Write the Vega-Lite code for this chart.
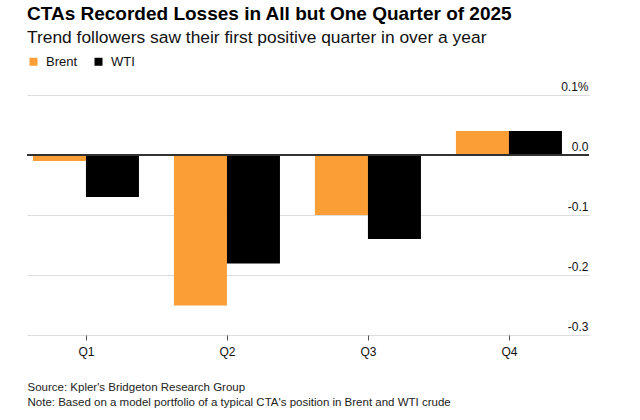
{
  "$schema": "https://vega.github.io/schema/vega-lite/v6.json",
  "width": 562,
  "height": 240,
  "padding": {"left": 26, "right": 52, "top": 4, "bottom": 3},
  "background": "white",
  "title": {
    "text": "CTAs Recorded Losses in All but One Quarter of 2025",
    "subtitle": "Trend followers saw their first positive quarter in over a year",
    "anchor": "start",
    "frame": "group",
    "font": "Liberation Sans",
    "fontSize": 19,
    "fontWeight": "bold",
    "color": "#000000",
    "subtitleFont": "Liberation Sans",
    "subtitleFontSize": 17.4,
    "subtitleColor": "#111111",
    "subtitlePadding": 5,
    "offset": 9
  },
  "config": {
    "view": {"stroke": null},
    "font": "Liberation Sans"
  },
  "data": {
    "values": [
      {"quarter": "Q1", "series": "Brent", "value": -0.01},
      {"quarter": "Q1", "series": "WTI", "value": -0.07},
      {"quarter": "Q2", "series": "Brent", "value": -0.251},
      {"quarter": "Q2", "series": "WTI", "value": -0.181},
      {"quarter": "Q3", "series": "Brent", "value": -0.1},
      {"quarter": "Q3", "series": "WTI", "value": -0.14},
      {"quarter": "Q4", "series": "Brent", "value": 0.04},
      {"quarter": "Q4", "series": "WTI", "value": 0.04}
    ]
  },
  "layer": [
    {
      "mark": {"type": "bar", "stroke": null},
      "encoding": {
        "x": {
          "field": "quarter",
          "type": "nominal",
          "sort": ["Q1", "Q2", "Q3", "Q4"],
          "scale": {"paddingInner": 0.248, "paddingOuter": 0.117, "align": 0.18},
          "axis": {
            "title": ["Source: Kpler's Bridgeton Research Group", "Note: Based on a model portfolio of a typical CTA's position in Brent and WTI crude"],
            "titleFont": "Liberation Sans",
            "titleFontSize": 11.5,
            "titleFontWeight": "normal",
            "titleColor": "#222222",
            "titleAnchor": "start",
            "titleAlign": "left",
            "titleBaseline": "top",
            "titleX": 0,
            "titleY": 46,
            "titleLineHeight": 15,
            "labelAngle": 0,
            "labelFontSize": 12,
            "labelColor": "#111111",
            "labelPadding": 6,
            "domain": false,
            "ticks": true,
            "tickSize": 5,
            "tickColor": "#555555",
            "tickOffset": 0,
            "tickBand": "center"
          }
        },
        "xOffset": {"field": "series", "type": "nominal", "sort": ["Brent", "WTI"], "scale": {"paddingInner": 0, "paddingOuter": 0}},
        "y": {
          "field": "value",
          "type": "quantitative",
          "scale": {"domain": [-0.3, 0.1], "nice": false, "zero": false},
          "axis": {
            "orient": "right",
            "title": null,
            "values": [0.1, 0, -0.1, -0.2, -0.3],
            "labelExpr": "datum.value > 0.05 ? '0.1%' : datum.value > -0.05 ? '0.0' : datum.value > -0.15 ? '-0.1' : datum.value > -0.25 ? '-0.2' : '-0.3'",
            "labelAlign": "right",
            "labelBaseline": "alphabetic",
            "labelOffset": -5,
            "labelPadding": -1,
            "labelFontSize": 12,
            "labelColor": "#111111",
            "ticks": false,
            "domain": false,
            "grid": true,
            "gridColor": "#dcdcdc",
            "gridWidth": 1
          }
        },
        "color": {
          "field": "series",
          "type": "nominal",
          "sort": ["Brent", "WTI"],
          "scale": {"domain": ["Brent", "WTI"], "range": ["#fb9e36", "#000000"]},
          "legend": {
            "title": null,
            "orient": "none",
            "legendX": 0,
            "legendY": -40,
            "direction": "horizontal",
            "symbolType": "square",
            "symbolSize": 64,
            "symbolStrokeWidth": 0,
            "labelFontSize": 13,
            "labelColor": "#111111",
            "labelFont": "Liberation Sans",
            "columnPadding": 14,
            "labelOffset": 6
          }
        }
      }
    },
    {
      "mark": {"type": "rule", "color": "#333333", "strokeWidth": 1},
      "encoding": {"y": {"datum": 0, "type": "quantitative"}}
    }
  ]
}
